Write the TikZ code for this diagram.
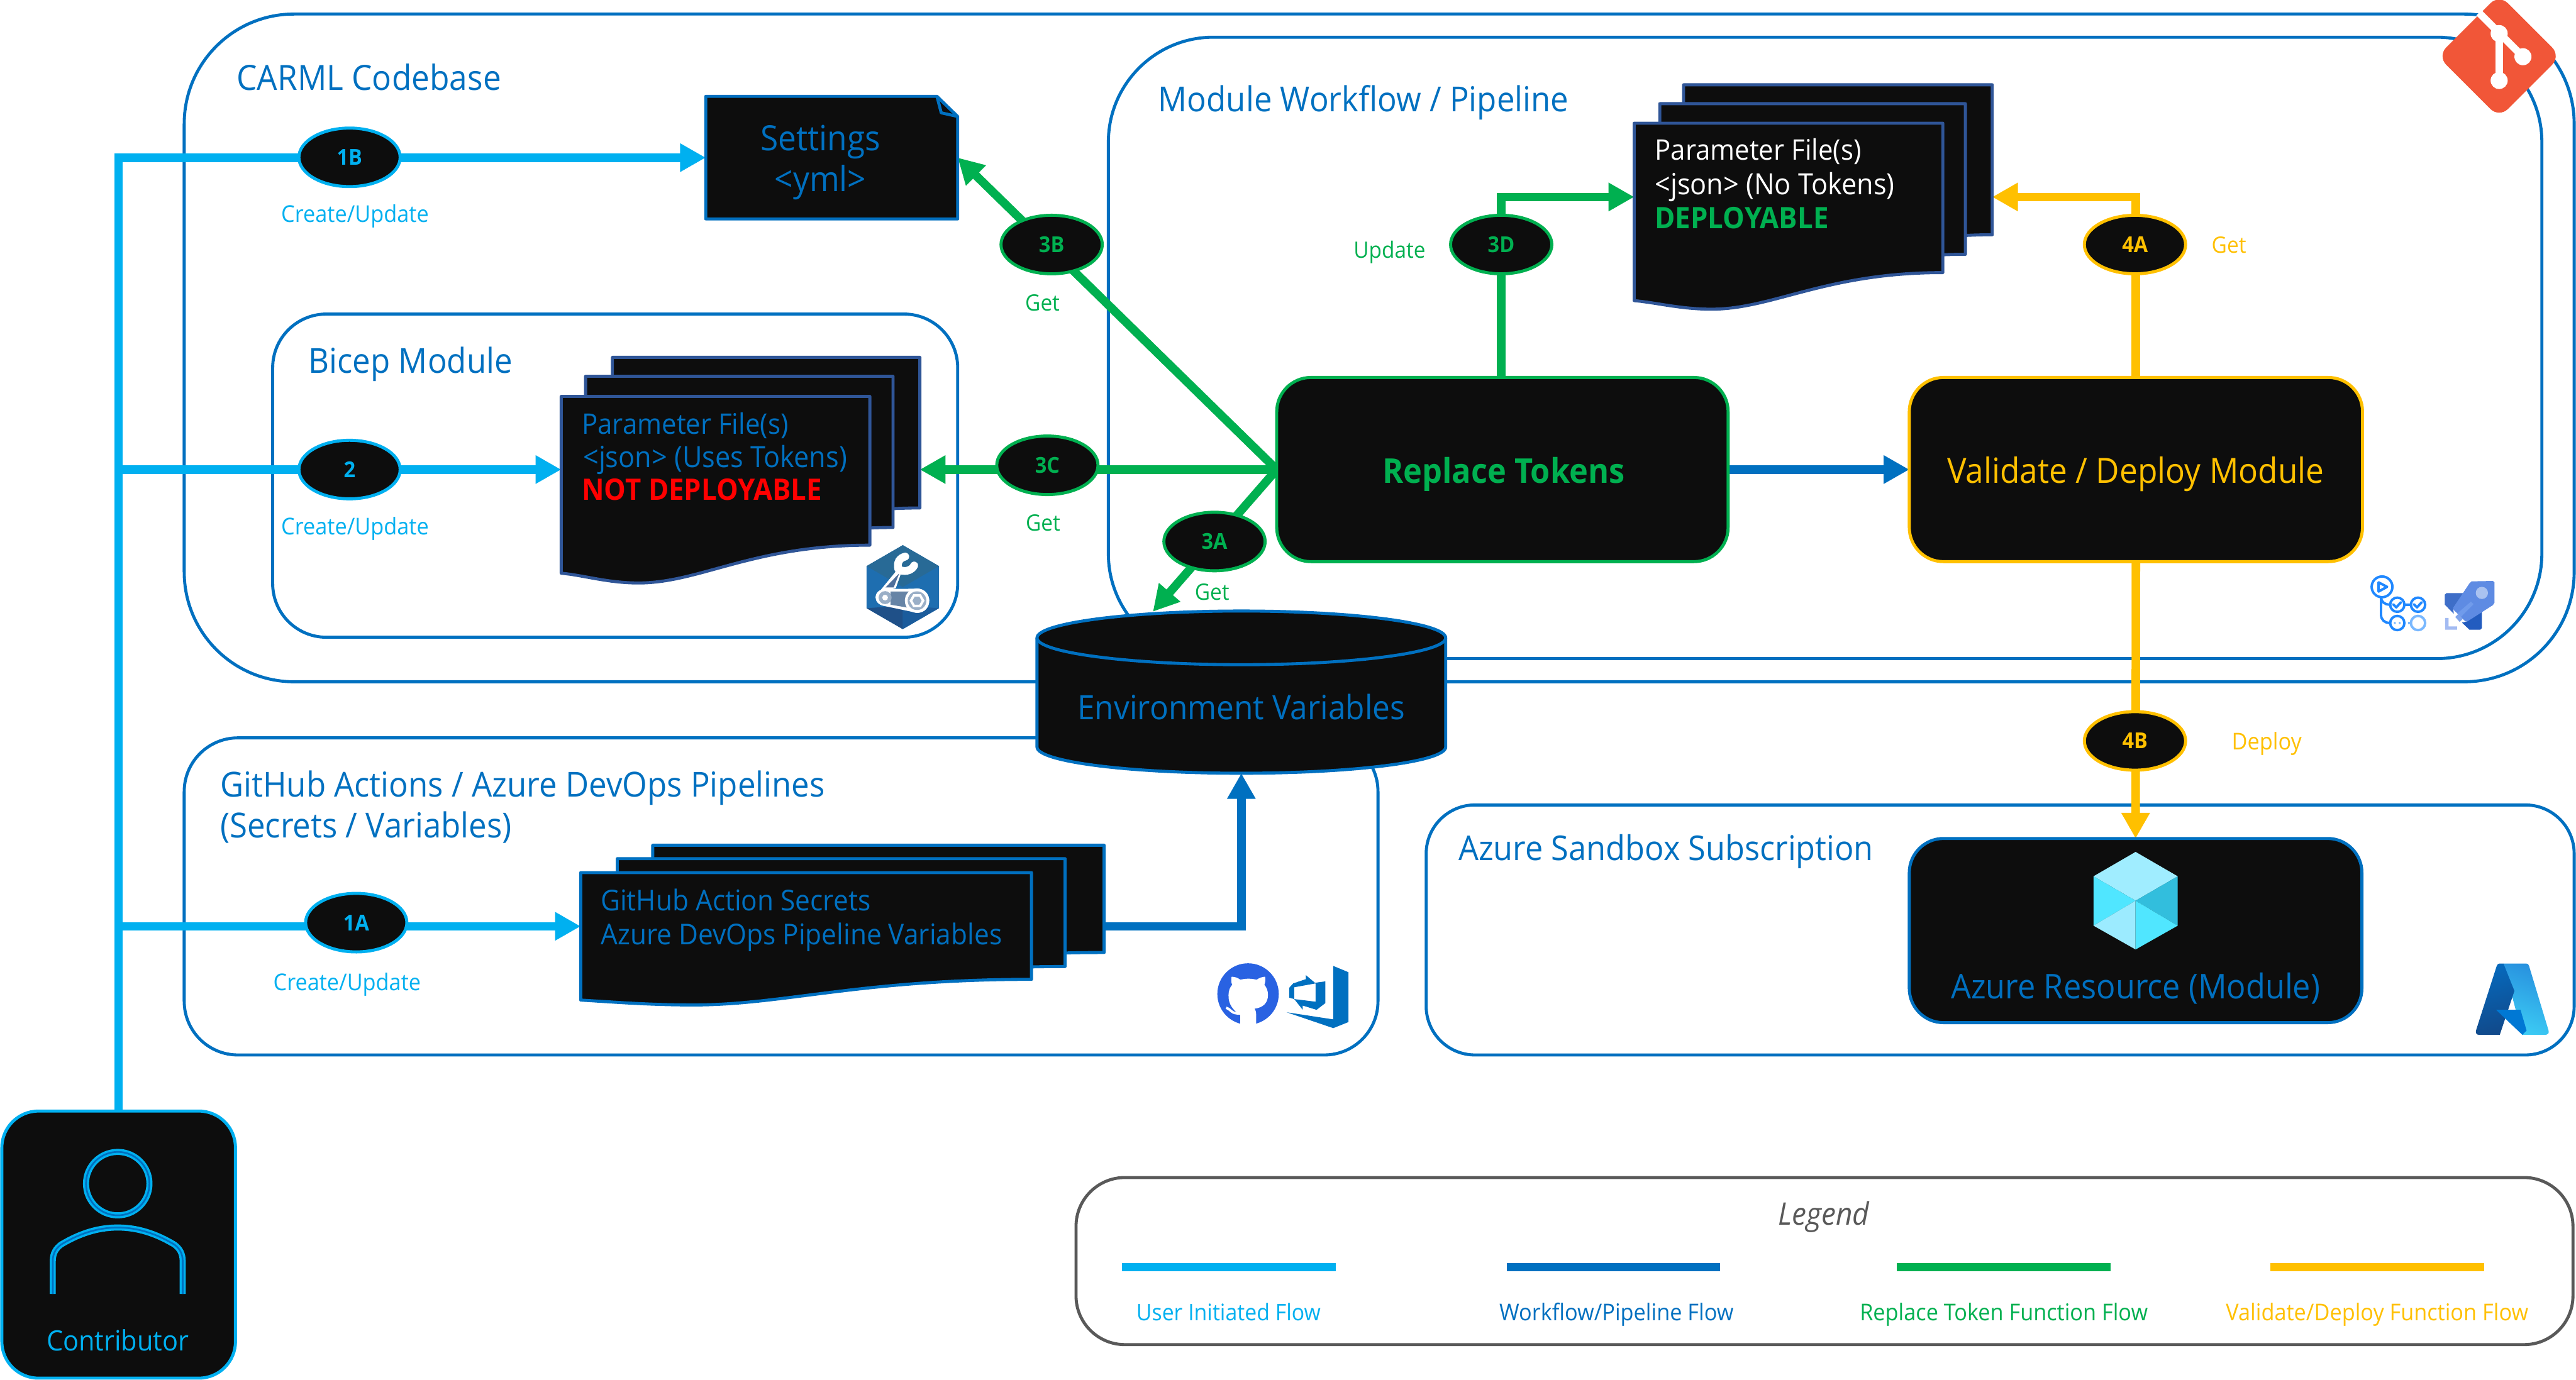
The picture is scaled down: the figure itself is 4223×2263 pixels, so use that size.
\documentclass[tikz,border=0pt]{standalone}
\usepackage{fontspec}
\usepackage{xfp}
\setmainfont[FakeStretch=0.93]{Open Sans}
\usetikzlibrary{arrows.meta,shapes.geometric,calc}
\pgfdeclarelayer{frames}
\pgfdeclarelayer{edges}
\pgfsetlayers{frames,edges,main}
\definecolor{cblue}{HTML}{0070C0}
\definecolor{clight}{HTML}{00B0F0}
\definecolor{cgreen}{HTML}{00B050}
\definecolor{camber}{HTML}{FFC000}
\definecolor{cdark}{HTML}{0D0D0D}
\definecolor{cnavy}{HTML}{2F5597}
\definecolor{cgray}{HTML}{595959}
\newcommand\fsz[1]{\fontsize{\fpeval{#1*0.25}}{\fpeval{#1*0.3}}\selectfont}
\newcommand\pxbox[6]{\node[#1,minimum width={(#5-#3)*0.25pt},minimum height={(#6-#4)*0.25pt}] (#2) at ({(#3+#5)/2},{(#4+#6)/2}) {};}
% style, name, L, T, R, bottom right, bottom left, lowest
\newcommand\docpage[8]{%
  \path[#1] (#3,#4) -- (#5,#4) -- (#5,#6)
    .. controls ({#5-0.38*(#5-#3)},#6) and ({#3+0.45*(#5-#3)},#8) .. ({#3+0.25*(#5-#3)},#8)
    .. controls ({#3+0.15*(#5-#3)},#8) and ({#3+0.07*(#5-#3)},{#7+3}) .. (#3,#7) -- cycle;
  \pxbox{inner sep=0,outer sep=0}{#2}{#3}{#4}{#5}{#6}}
\tikzset{
  x=0.25pt,y=-0.25pt,
  frame/.style={draw=cblue,line width=1.25pt,rectangle,inner sep=0,outer sep=0},
  darkbox/.style={fill=cdark,line width=1.25pt,rectangle,inner sep=0,outer sep=0,rounded corners=14pt},
  page/.style={draw=#1,fill=cdark,line width=1.25pt,line join=round},
  flow/.style={draw=#1,line width=3.5pt,line join=miter},
  tip/.style={-{Triangle[length=10.5pt,width=11pt]}},
  badge/.style={ellipse,draw=#1,fill=cdark,line width=1.25pt,minimum width=41.5pt,minimum height=24pt,inner sep=0,outer sep=0,text=#1,font=\fsz{36}\bfseries},
  tl/.style={anchor=base west,inner sep=0,outer sep=0,yshift=-0.6pt},
  tc/.style={anchor=base,inner sep=0,outer sep=0,yshift=-0.6pt},
}
\begin{document}
\begin{tikzpicture}
\useasboundingbox (0,0) rectangle (4223,2263);
% ---------- frames
\begin{pgfonlayer}{frames}
\fill[white] (0,0) rectangle (4223,2263);
\pxbox{frame,rounded corners=45pt}{carml}{302}{23}{4220}{1118}
\pxbox{frame,rounded corners=43pt}{module}{1817}{61}{4167}{1080}
\pxbox{frame,rounded corners=22pt}{bicep}{447}{515}{1570}{1045}
\pxbox{frame,rounded corners=22pt}{cicd}{302}{1210}{2259}{1730}
\pxbox{frame,rounded corners=20pt}{sandbox}{2338}{1320}{4220}{1730}
\pxbox{draw=cgray,line width=1.25pt,fill=white,rounded corners=20pt,inner sep=0,outer sep=0}{legendbox}{1764}{1931}{4218}{2205}
\end{pgfonlayer}
% ---------- titles
\node[tl,text=cblue,font=\fsz{57}] (tcarml) at (388,146) {CARML Codebase};
\node[tl,text=cblue,font=\fsz{56.5}] (tmodule) at (1899,181) {Module Workflow / Pipeline};
\node[tl,text=cblue,font=\fsz{56.5}] (tbicep) at (506,609) {Bicep Module};
\node[tl,text=cblue,font=\fsz{56.5}] (tcicd) at (361,1304) {GitHub Actions / Azure DevOps Pipelines};
\node[tl,text=cblue,font=\fsz{56.5}] (tcicdb) at (361,1371) {(Secrets / Variables)};
\node[tl,text=cblue,font=\fsz{56}] (tsandbox) at (2391,1409) {Azure Sandbox Subscription};
% ---------- settings
\path[page=cblue] (1157,158) -- (1536,158) -- (1570,191) -- (1570,359) -- (1157,359) -- cycle;
\path[page=cblue,fill=none] (1536,158) -- (1543,185) -- (1570,191);
\pxbox{inner sep=0,outer sep=0}{settings}{1157}{158}{1570}{359}
\node[tc,text=cblue,font=\fsz{57}] (tsetA) at (1345,245) {Settings};
\node[tc,text=cblue,font=\fsz{57}] (tsetB) at (1345,312) {<yml>};
% ---------- bicep stack
\docpage{page=cnavy}{bicepback}{1004}{586}{1508}{833}{879}{895}
\docpage{page=cnavy}{bicepmid}{960}{617}{1464}{865}{911}{927}
\docpage{page=cnavy}{bicepfront}{920}{650}{1426}{894}{940}{956}
\node[tl,text=cblue,font=\fsz{46.5}] (tbicA) at (954,710) {Parameter File(s)};
\node[tl,text=cblue,font=\fsz{48}] (tbicB) at (956,764) {<json> (Uses Tokens)};
\node[tl,text=red,font=\fsz{48.5}\bfseries] (tbicC) at (954,818) {NOT DEPLOYABLE};
% ---------- deployable stack
\docpage{page=cnavy}{depback}{2760}{139}{3266}{385}{431}{445}
\docpage{page=cnavy}{depmid}{2721}{170}{3222}{417}{463}{477}
\docpage{page=cnavy}{depfront}{2679}{202}{3185}{447}{493}{507}
\node[tl,text=white,font=\fsz{46.5}] (tdepA) at (2713,260) {Parameter File(s)};
\node[tl,text=white,font=\fsz{48}] (tdepB) at (2713,317) {<json> (No Tokens)};
\node[tl,text=cgreen,font=\fsz{48.5}\bfseries] (tdepC) at (2713,372) {DEPLOYABLE};
% ---------- secrets stack
\docpage{page=cblue}{cicdback}{1070}{1386}{1810}{1562}{1596}{1604}
\docpage{page=cblue}{cicdmid}{1012}{1408}{1746}{1585}{1619}{1627}
\docpage{page=cblue}{cicdfront}{952}{1431}{1691}{1606}{1640}{1648}
\node[tl,text=cblue,font=\fsz{47}] (tsecA) at (985,1491) {GitHub Action Secrets};
\node[tl,text=cblue,font=\fsz{47}] (tsecB) at (985,1547) {Azure DevOps Pipeline Variables};
% ---------- process boxes
\pxbox{darkbox,draw=cgreen}{rt}{2093}{619}{2833}{921}
\node[tc,text=cgreen,font=\fsz{56}\bfseries] (trt) at (2465,790) {Replace Tokens};
\pxbox{darkbox,draw=camber}{vd}{3130}{619}{3873}{921}
\node[tc,text=camber,font=\fsz{57}] (tvd) at (3501,790) {Validate / Deploy Module};
\pxbox{darkbox,draw=cblue}{res}{3130}{1375}{3872}{1677}
\node[tc,text=cblue,font=\fsz{56}] (tres) at (3501,1635) {Azure Resource (Module)};
% cube
\fill[fill={rgb,255:red,160;green,237;blue,255}] (3501,1397) -- (3570,1437) -- (3501,1477) -- (3432,1437) -- cycle;
\fill[fill={rgb,255:red,80;green,230;blue,255}] (3432,1437) -- (3501,1477) -- (3432,1518) -- cycle;
\fill[fill={rgb,255:red,50;green,190;blue,221}] (3570,1437) -- (3501,1477) -- (3570,1518) -- cycle;
\fill[fill={rgb,255:red,156;green,235;blue,255}] (3432,1518) -- (3501,1477) -- (3501,1557) -- cycle;
\fill[fill={rgb,255:red,80;green,230;blue,255}] (3570,1518) -- (3501,1477) -- (3501,1557) -- cycle;
% ---------- environment cylinder
\path[page=cblue] (1700,1046) .. controls (1700,1022) and (1850,1002) .. (2035,1002) .. controls (2220,1002) and (2370,1022) .. (2370,1046) -- (2370,1225) .. controls (2370,1249) and (2220,1268) .. (2035,1268) .. controls (1850,1268) and (1700,1249) .. (1700,1225) -- cycle;
\path[page=cblue,fill=none] (1700,1046) .. controls (1700,1070) and (1850,1090) .. (2035,1090) .. controls (2220,1090) and (2370,1070) .. (2370,1046);
\pxbox{inner sep=0,outer sep=0}{env}{1700}{1002}{2370}{1268}
\coordinate (envtip) at (1890,1003);
\node[tc,text=cblue,font=\fsz{55}] (tenv) at (2035,1178) {Environment Variables};
% ---------- contributor
\pxbox{darkbox,draw=clight,rounded corners=15pt}{contrib}{3}{1822}{386}{2260}
\draw[clight,line width=2.5pt] (193,1941) circle[radius=52];
\draw[cblue,line width=0.7pt] (193,1941) circle[radius=52];
\draw[clight,line width=2.5pt] (86.5,2122) -- (86.5,2068) .. controls (86.5,2055) and (92,2047) .. (100,2041) .. controls (130,2023) and (160,2013) .. (193,2013) .. controls (226,2013) and (256,2023) .. (286,2041) .. controls (294,2047) and (299.5,2055) .. (299.5,2068) -- (299.5,2122);
\draw[cblue,line width=0.7pt] (86.5,2122) -- (86.5,2068) .. controls (86.5,2055) and (92,2047) .. (100,2041) .. controls (130,2023) and (160,2013) .. (193,2013) .. controls (226,2013) and (256,2023) .. (286,2041) .. controls (294,2047) and (299.5,2055) .. (299.5,2068) -- (299.5,2122);
\node[tc,text=clight,font=\fsz{46}] (tcon) at (193,2213) {Contributor};
% ---------- badges
\node[badge=clight] (e1b) at (573,258) {1B};
\node[badge=clight] (e2) at (573,770) {2};
\node[badge=clight] (e1a) at (584,1513) {1A};
\node[badge=cgreen] (e3b) at (1724,401) {3B};
\node[badge=cgreen] (e3c) at (1717,763) {3C};
\node[badge=cgreen] (e3a) at (1991,888) {3A};
\node[badge=cgreen] (e3d) at (2461,401) {3D};
\node[badge=camber] (e4a) at (3500,401) {4A};
\node[badge=camber] (e4b) at (3500,1215) {4B};
\coordinate (secport) at (584,1519);
% ---------- connectors
\begin{pgfonlayer}{edges}
\draw[flow=clight,tip] (contrib.north) -- (contrib.north |- settings.west) -- (settings.west);
\draw[flow=clight,tip] (contrib.north |- e2) -- (bicepfront.west |- e2);
\draw[flow=clight,tip] (contrib.north |- secport) -- (cicdfront.west |- secport);
\draw[flow=cgreen,tip] (rt.west) -- (settings.east);
\draw[flow=cgreen,tip] (rt.west) -- (bicepback.east |- rt.west);
\draw[flow=cgreen,tip] (rt.west) -- (envtip);
\draw[flow=cgreen,tip] (rt.north -| e3d) -- (e3d |- 0,323) -- (depfront.west |- 0,323);
\draw[flow=camber,tip] (vd.north) -- (vd.north |- 0,323) -- (depback.east |- 0,323);
\draw[flow=cblue,tip] (rt.east) -- (vd.west);
\draw[flow=camber,tip] (vd.south) -- (res.north);
\draw[flow=cblue,tip] (cicdback.east |- secport) -| (env.south);
\end{pgfonlayer}
% ---------- small labels
\node[tc,text=clight,font=\fsz{38}] (l1b) at (582,362) {Create/Update};
\node[tc,text=clight,font=\fsz{38}] (l2) at (582,874) {Create/Update};
\node[tc,text=clight,font=\fsz{38}] (l1a) at (569,1622) {Create/Update};
\node[tc,text=cgreen,font=\fsz{37}] (l3b) at (1709,507) {Get};
\node[tc,text=cgreen,font=\fsz{37}] (l3c) at (1710,868) {Get};
\node[tc,text=cgreen,font=\fsz{37}] (l3a) at (1987,982) {Get};
\node[tc,text=cgreen,font=\fsz{37}] (l3d) at (2278,421) {Update};
\node[tc,text=camber,font=\fsz{37}] (l4a) at (3654,413) {Get};
\node[tc,text=camber,font=\fsz{38}] (l4b) at (3716,1227) {Deploy};
% ---------- legend
\node[tc,text=cgray,font=\fsz{51}\itshape] (tleg) at (2990,2006) {Legend};
\coordinate (la1) at (1839,2078); \coordinate (la2) at (2190,2078);
\coordinate (lb1) at (2470,2078); \coordinate (lb2) at (2820,2078);
\coordinate (lc1) at (3110,2078); \coordinate (lc2) at (3460,2078);
\coordinate (ld1) at (3722,2078); \coordinate (ld2) at (4072,2078);
\draw[flow=clight] (la1) -- (la2);
\draw[flow=cblue] (lb1) -- (lb2);
\draw[flow=cgreen] (lc1) -- (lc2);
\draw[flow=camber] (ld1) -- (ld2);
\node[tc,text=clight,font=\fsz{37.5}] (lga) at (2014,2163) {User Initiated Flow};
\node[tc,text=cblue,font=\fsz{38}] (lgb) at (2650,2163) {Workflow/Pipeline Flow};
\node[tc,text=cgreen,font=\fsz{38}] (lgc) at (3285,2163) {Replace Token Function Flow};
\node[tc,text=camber,font=\fsz{38}] (lgd) at (3897,2163) {Validate/Deploy Function Flow};
% ---------- git logo
\fill[fill={rgb,255:red,241;green,86;blue,56},rounded corners=5pt] (4097,-9) -- (4198,92) -- (4097,193) -- (3996,92) -- cycle;
\draw[white,line width=3pt] (4064,21) -- (4136,93);
\draw[white,line width=3pt] (4097,55) -- (4097,132);
\fill[white] (4097,55) circle[radius=14] (4136,93) circle[radius=14] (4097,132) circle[radius=14];
% ---------- bicep hexagon icon
\begin{scope}[shift={(1380,880)},xscale=1/3,yscale=1/3]
\fill[fill={rgb,255:red,30;green,110;blue,176}] (300,42) -- (478,145) -- (478,352) -- (300,455) -- (122,352) -- (122,145) -- cycle;
\fill[fill={rgb,255:red,40;green,106;blue,150}] (300,42) -- (478,145) -- (300,248) -- (122,145) -- cycle;
\fill[fill={rgb,255:red,31;green,80;blue,136}] (122,352) -- (300,340) -- (300,455) -- cycle;
\fill[fill={rgb,255:red,27;green,92;blue,156}] (478,352) -- (300,340) -- (300,455) -- cycle;
\fill[white] (185,270) -- (275,160) -- (295,170) -- (265,255) -- cycle;
\fill[fill={rgb,255:red,78;green,111;blue,155}] (215,250) -- (283,180) -- (255,250) -- cycle;
\draw[white,line width=3.2pt,line cap=round] (278,160) .. controls (270,125) and (285,105) .. (312,98);
\draw[white,line width=3.2pt,line cap=round] (288,165) .. controls (315,175) and (345,165) .. (356,142);
\fill[white] (213,258) -- (370,256) .. controls (450,256) and (450,375) .. (370,375) -- (213,342) .. controls (150,335) and (150,260) .. (213,258) -- cycle;
\fill[fill={rgb,255:red,102;green,132;blue,166}] (240,270) -- (340,270) -- (330,350) -- (240,335) -- cycle;
\fill[fill={rgb,255:red,154;green,175;blue,199}] (213,300) circle[radius=32];
\fill[white] (213,300) circle[radius=14];
\fill[white] (370,315) circle[radius=60];
\fill[fill={rgb,255:red,154;green,175;blue,199}] (370,315) circle[radius=46];
\draw[white,line width=1pt] (400,315) -- (385,341) -- (355,341) -- (340,315) -- (355,289) -- (385,289) -- cycle;
\end{scope}
% ---------- github actions icon
\begin{scope}[shift={(3800,900)},xscale=1/3,yscale=1/3]
\definecolor{gha}{HTML}{2088FF}\definecolor{ghb}{HTML}{79B8FF}
\draw[gha,line width=1pt] (315,187) circle[radius=51];
\draw[gha,line width=1pt,line join=round] (298,165) -- (340,187) -- (298,210) -- cycle;
\draw[gha,line width=1pt] (310,240) -- (310,325) .. controls (310,350) and (330,365) .. (352,365);
\draw[gha,line width=1pt] (310,240) .. controls (310,260) and (330,275) .. (352,275);
\draw[gha,line width=1pt] (390,275) circle[radius=35] (492,275) circle[radius=35] (390,365) circle[radius=35] (425,275) -- (457,275);
\draw[gha,line width=1pt,line cap=round,line join=round] (370,273) -- (385,288) -- (408,263) (472,273) -- (487,288) -- (510,263);
\draw[ghb,line width=1pt] (492,365) circle[radius=35] (443,365) -- (457,365);
\fill[ghb] (378,365) circle[radius=6] (402,365) circle[radius=6];
\end{scope}
% ---------- azure pipelines icon
\begin{scope}[shift={(3800,900)},xscale=1/3,yscale=1/3]
\fill[fill={rgb,255:red,62;green,110;blue,200}] (624,225) -- (632,218) -- (720,218) -- (665,295) -- (668,320) -- (624,275) -- cycle;
\fill[fill={rgb,255:red,35;green,92;blue,191}] (806,310) -- (806,390) -- (798,398) -- (745,398) -- (708,363) -- (730,358) -- cycle;
\fill[fill={rgb,255:red,94;green,139;blue,227}] (755,160) -- (860,158) -- (868,165) -- (868,265) -- (860,277) -- (735,357) -- (725,357) -- (667,300) -- (665,290) -- (745,170) -- cycle;
\fill[fill={rgb,255:red,169;green,194;blue,240}] (806,217) circle[radius=30];
\fill[fill={rgb,255:red,112;green,155;blue,235}] (685,318) -- (752,260) -- (765,272) -- (702,336) -- cycle;
\fill[fill={rgb,255:red,127;green,163;blue,234}] (675,335) -- (690,320) -- (712,345) -- (697,360) -- cycle;
\fill[fill={rgb,255:red,163;green,187;blue,242}] (625,340) -- (642,340) -- (642,382) -- (684,382) -- (684,398) -- (625,398) -- cycle;
\end{scope}
% ---------- github logo and azure devops icon
\begin{scope}[shift={(1950,1550)},xscale=1/3,yscale=1/3]
\fill[fill={rgb,255:red,41;green,98;blue,226}] (288,240) circle[radius=151];
\fill[white] (250,392) -- (250,345) .. controls (215,320) and (190,290) .. (192,245) .. controls (192,225) and (198,208) .. (210,195) .. controls (205,185) and (205,170) .. (207,155) .. controls (225,155) and (240,162) .. (250,170) .. controls (275,163) and (305,163) .. (330,170) .. controls (342,162) and (357,155) .. (372,155) .. controls (374,170) and (373,185) .. (368,195) .. controls (380,208) and (386,225) .. (386,245) .. controls (386,285) and (360,308) .. (320,312) .. controls (327,322) and (328,335) .. (328,350) -- (328,392) -- cycle;
\draw[white,line width=1pt] (180,308) .. controls (205,315) and (205,340) .. (250,335);
\fill[cblue] (707,102) -- (782,133) -- (782,378) -- (707,408) -- (478,330) -- (707,365) -- cycle;
\fill[cblue] (572,147) -- (617,185) -- (668,178) -- (668,285) -- (625,318) -- (557,297) -- (557,318) -- (515,265) -- (620,278) -- (620,188) -- (515,207) -- (515,265) -- (490,258) -- (490,210) -- (510,188) -- (572,167) -- cycle;
\end{scope}
% ---------- azure logo
\shade[left color={rgb,255:red,60;green,203;blue,244},right color={rgb,255:red,40;green,146;blue,223},shading angle=160] (4104,1580) -- (4141,1580) .. controls (4144,1580) and (4145,1581) .. (4146,1584) -- (4178,1690) .. controls (4179,1694) and (4177,1697) .. (4174,1697) -- (4135,1697) -- cycle;
\shade[left color={rgb,255:red,17;green,74;blue,139},right color={rgb,255:red,6;green,105;blue,188},shading angle=195] (4098,1580) -- (4104,1580) -- (4122,1625) -- (4098,1697) -- (4064,1697) .. controls (4060,1697) and (4058,1694) .. (4059,1690) -- (4093,1584) .. controls (4094,1581) and (4096,1580) .. (4098,1580) -- cycle;
\fill[fill={rgb,255:red,0;green,120;blue,212}] (4092,1656) -- (4132,1656) -- (4142,1690) -- (4135,1697) -- cycle;
\end{tikzpicture}
\end{document}
